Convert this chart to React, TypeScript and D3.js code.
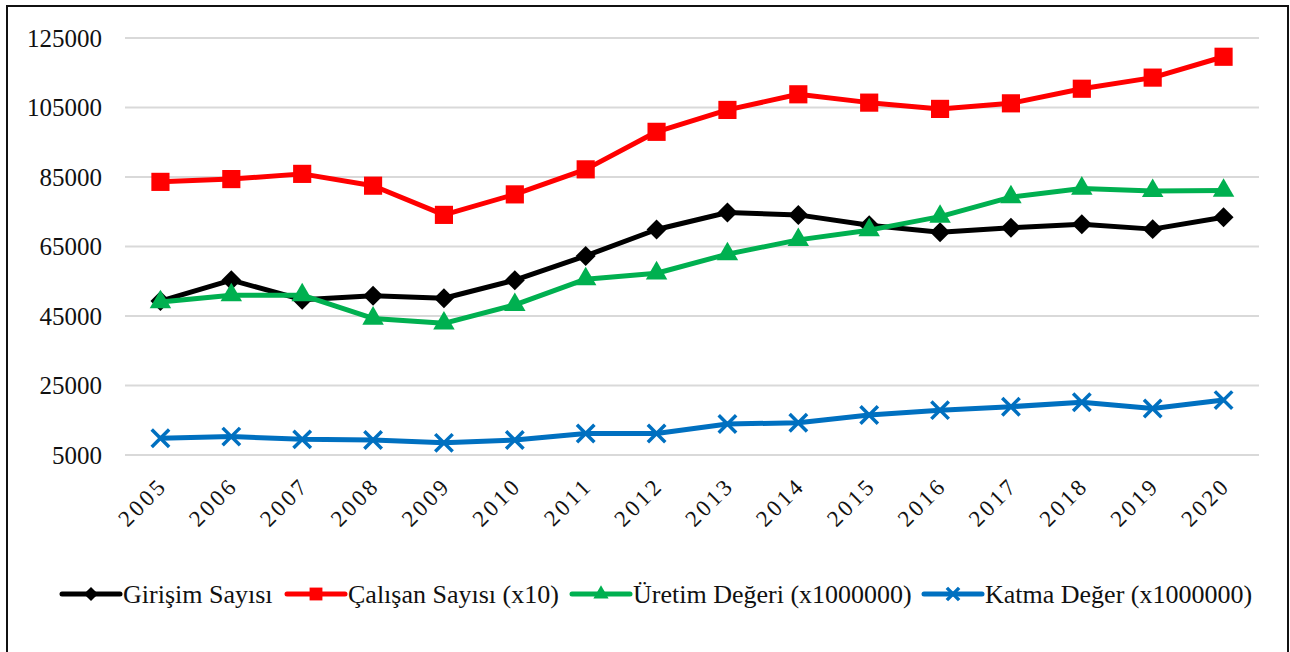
import { useEffect, useRef } from 'react';
import * as d3 from 'd3';

const years = ['2005', '2006', '2007', '2008', '2009', '2010', '2011', '2012',
  '2013', '2014', '2015', '2016', '2017', '2018', '2019', '2020'];

const girisim = [49300, 55300, 49700, 50800, 50100, 55300, 62300, 69900,
  74800, 74100, 71100, 69100, 70400, 71400, 70000, 73400];
const calisan = [83600, 84400, 85900, 82500, 74100, 80000, 87200, 98000,
  104300, 108800, 106400, 104600, 106200, 110400, 113600, 119600];
const uretim = [49000, 51000, 51000, 44300, 42900, 48200, 55600, 57300,
  62800, 66900, 69700, 73600, 79200, 81700, 81000, 81100];
const katma = [9800, 10300, 9500, 9300, 8500, 9300, 11200, 11200,
  13900, 14300, 16500, 17900, 18900, 20200, 18400, 20800];

const yTicks = [5000, 25000, 45000, 65000, 85000, 105000, 125000];

const seriesNames = ['Girişim Sayısı', 'Çalışan Sayısı (x10)', 'Üretim Değeri (x1000000)', 'Katma Değer (x1000000)'];
const seriesColors = ['#000000', '#FF0000', '#00B050', '#0070C0'];
const seriesMarkers = ['diamond', 'square', 'triangle', 'x'];
const legendX = [62, 287, 572, 924];

const font = 'Liberation Serif';

function App() {
  const ref = useRef<SVGSVGElement>(null);

  useEffect(() => {
    const svg = d3.select(ref.current);
    svg.selectAll('*').remove();

    // frame
    svg.append('rect')
      .attr('x', 7).attr('y', 6)
      .attr('width', 1281).attr('height', 660)
      .attr('fill', 'white')
      .attr('stroke', '#111').attr('stroke-width', 2);

    const left = 125, right = 1259, top = 38, bottom = 455;

    const x = d3.scaleBand().domain(years).range([left, right]);
    const y = d3.scaleLinear().domain([5000, 125000]).range([bottom, top]);

    // gridlines
    svg.append('g').selectAll('line')
      .data(yTicks).enter().append('line')
      .attr('x1', left).attr('x2', right)
      .attr('y1', d => y(d)).attr('y2', d => y(d))
      .attr('stroke', '#D9D9D9').attr('stroke-width', 2);

    // y labels
    svg.append('g').selectAll('text')
      .data(yTicks).enter().append('text')
      .attr('x', 102).attr('y', d => y(d))
      .attr('dy', '0.35em')
      .attr('text-anchor', 'end')
      .attr('font-family', font).attr('font-size', 25)
      .attr('fill', '#111')
      .text(d => String(d));

    // x labels
    svg.append('g').selectAll('text')
      .data(years).enter().append('text')
      .attr('transform', d => 'translate(' + (x(d)! + x.bandwidth() / 2 + 8) + ',487)rotate(-45)')
      .attr('text-anchor', 'end')
      .attr('font-family', font).attr('font-size', 23)
      .attr('letter-spacing', 3)
      .attr('fill', '#111')
      .text(d => d);

    const markerPath = (kind: string, scale: number) => {
      if (kind === 'diamond') return d3.symbol().type(d3.symbolSquare).size(200 * scale)();
      if (kind === 'square') return d3.symbol().type(d3.symbolSquare).size(330 * scale)();
      if (kind === 'triangle') return d3.symbol().type(d3.symbolTriangle).size(200 * scale)();
      return d3.symbol().type(d3.symbolTimes).size(200 * scale)();
    };

    const drawMarker = (g: any, kind: string, color: string, cx: number, cy: number, scale: number) => {
      const p = g.append('path')
        .attr('d', markerPath(kind, scale))
        .attr('transform', 'translate(' + cx + ',' + cy + ')' + (kind === 'diamond' ? 'rotate(45)' : ''));
      if (kind === 'x') {
        p.attr('fill', 'none').attr('stroke', color).attr('stroke-width', 3.5);
      } else {
        p.attr('fill', color);
      }
    };

    const allSeries = [girisim, calisan, uretim, katma];
    const line = d3.line<number>()
      .x((d, i) => x(years[i])! + x.bandwidth() / 2)
      .y(d => y(d));

    allSeries.forEach((vals, si) => {
      const g = svg.append('g');
      g.append('path')
        .datum(vals)
        .attr('d', line)
        .attr('fill', 'none')
        .attr('stroke', seriesColors[si])
        .attr('stroke-width', 5)
        .attr('stroke-linejoin', 'round');
      vals.forEach((v, i) => {
        drawMarker(g, seriesMarkers[si], seriesColors[si], x(years[i])! + x.bandwidth() / 2, y(v), 1);
      });
    });

    // legend
    const lg = svg.append('g');
    seriesNames.forEach((name, si) => {
      const lx = legendX[si];
      const ly = 594;
      lg.append('line')
        .attr('x1', lx).attr('x2', lx + 58)
        .attr('y1', ly).attr('y2', ly)
        .attr('stroke', seriesColors[si]).attr('stroke-width', 5)
        .attr('stroke-linecap', 'round');
      drawMarker(lg, seriesMarkers[si], seriesColors[si], lx + 29, ly, 0.5);
      lg.append('text')
        .attr('x', lx + 61).attr('y', ly)
        .attr('dy', '0.35em')
        .attr('font-family', font).attr('font-size', 26)
        .attr('fill', '#111')
        .text(name);
    });
  }, []);

  return (
    <svg ref={ref} width={1290} height={652}
      style={{ position: 'absolute', left: 0, top: 0, background: 'white' }} />
  );
}

export default App;
